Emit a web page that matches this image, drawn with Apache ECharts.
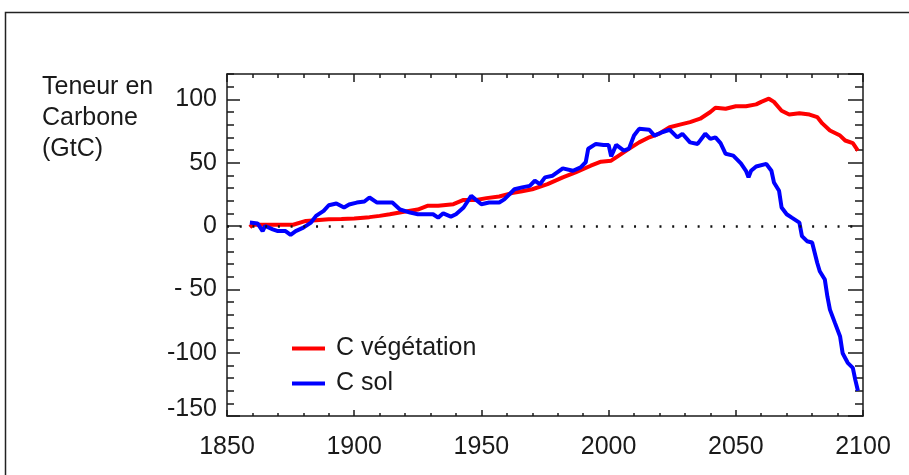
<!DOCTYPE html>
<html>
<head>
<meta charset="utf-8">
<style>
  html, body { margin: 0; padding: 0; background: #fff; }
  #chart { width: 909px; height: 475px; }
</style>
<script src="https://cdn.jsdelivr.net/npm/echarts@6/dist/echarts.min.js"></script>
</head>
<body>
<div id="chart"></div>
<script>
// données
var vegYears = [1859, 1860, 1865, 1870, 1876, 1881, 1885, 1890, 1895, 1900, 1906, 1910, 1914, 1919, 1925, 1929,
    1933, 1939, 1943, 1948, 1952, 1957, 1962, 1966, 1970, 1976, 1982, 1987, 1993, 1997, 2001, 2004, 2008,
    2012, 2016, 2020, 2024, 2028, 2032, 2036, 2040, 2042, 2046, 2050, 2054, 2058, 2060, 2063, 2065, 2068,
    2071, 2075, 2079, 2082, 2084, 2087, 2091, 2093, 2096, 2098];
var vegValues = [-1, 1, 1, 1, 1, 4, 4.5, 5.3, 5.5, 6, 7, 8, 9.3, 11, 13, 16,
    16, 17.2, 20.6, 20.6, 22, 23.3, 26, 27.5, 29, 33, 38.4, 42.3, 47.6, 50.8, 51.6, 55.6, 60.9,
    66, 70, 73, 78, 80, 82, 84.7, 90, 93.4, 92.6, 94.5, 94.5, 96, 98, 100.5, 98, 91,
    88, 89, 88, 86, 81, 75.4, 71.4, 67.5, 65.4, 59.5];

var solYears = [1859, 1862, 1864, 1865, 1868, 1870, 1873, 1875, 1877, 1880, 1883, 1885, 1888, 1890, 1893, 1896,
    1898, 1901, 1904, 1906, 1909, 1913, 1915, 1918, 1922, 1925, 1931, 1933, 1935, 1938, 1940, 1943, 1946,
    1950, 1953, 1957, 1959, 1963, 1966, 1969, 1971, 1973, 1975, 1978, 1982, 1986, 1989, 1991, 1992, 1995,
    1998, 2000, 2001, 2003, 2006, 2008, 2010, 2012, 2016, 2018, 2021, 2024, 2027, 2029, 2032, 2035, 2038,
    2040, 2042, 2044, 2046, 2049, 2052, 2054, 2055, 2056, 2058, 2062, 2064, 2065, 2067, 2068, 2070, 2072,
    2075, 2076, 2078, 2080, 2082, 2083, 2085, 2086, 2087, 2089, 2091, 2092, 2094, 2096, 2097, 2098];
var solValues = [2.7, 2, -4, 0, -2.6, -4, -4, -7, -4, -1.3, 2.7, 8, 12, 16.4, 17.7, 14.6,
    17, 18.5, 19.3, 22.5, 18.5, 18.5, 18.5, 13, 10.6, 9.3, 9.3, 6.6, 10, 7.4, 9.3, 14.6, 23.8,
    17.2, 18.5, 18.5, 21, 29, 30.5, 31.7, 35.7, 33, 38.4, 39.7, 45.5, 43.6, 46.3, 50.3, 61, 64.8,
    64, 64, 55, 64, 59.5, 61, 71.4, 76.7, 76, 71.4, 74, 76, 70, 72.8, 66, 64.8, 72.8,
    68.8, 70, 65.4, 57, 55.6, 49.5, 43.6, 38.4, 43.6, 47, 49, 43.6, 34.4, 27.8, 14.6, 9.3, 6.6,
    2.7, -8, -12, -13, -29, -35.7, -42.3, -55.6, -66, -76.7, -87.3, -100.5, -108, -112, -121.7, -130];

var seriesNames = ['C végétation', 'C sol'];
var yLabelText = { '-50': '- 50' };

var myChart = echarts.init(document.getElementById('chart'));

var font = '"Liberation Sans", Arial, sans-serif';
var fontSize = 25;
var ink = '#1a1a1a';

function pairs(xs, ys) {
    return xs.map(function (x, i) { return [x, ys[i]]; });
}

function yAxisDef(position, interval, tickLen, withLine, withLabels) {
    return {
        type: 'value',
        position: position,
        min: -150,
        max: 120,
        interval: interval,
        axisLine: { show: withLine, onZero: false, lineStyle: { color: ink, width: 1.5 } },
        axisTick: { show: true, inside: true, length: tickLen, lineStyle: { color: ink, width: 1.5 } },
        axisLabel: {
            show: withLabels,
            margin: 10,
            color: ink,
            fontFamily: font,
            fontSize: fontSize,
            showMaxLabel: false,
            formatter: function (v) {
                if (v === -150) return '{lift|-150}';
                return yLabelText[v] || String(v);
            },
            rich: { lift: { fontFamily: font, fontSize: fontSize, color: ink, padding: [0, 0, 14, 0] } }
        },
        splitLine: { show: false }
    };
}

function xAxisDef(position, tickLen, minorLen, withLabels) {
    return {
        type: 'value',
        position: position,
        min: 1850,
        max: 2100,
        interval: 50,
        axisLine: { onZero: false, lineStyle: { color: ink, width: 1.5 } },
        axisTick: { inside: true, length: tickLen, lineStyle: { color: ink, width: 1.5 } },
        minorTick: { show: true, splitNumber: 5, length: minorLen, lineStyle: { color: ink, width: 1.5 } },
        axisLabel: {
            show: withLabels,
            margin: 19,
            color: ink,
            fontFamily: font,
            fontSize: fontSize,
            formatter: function (v) { return String(v); }
        },
        splitLine: { show: false }
    };
}

var option = {
    animation: false,
    backgroundColor: '#fff',
    grid: { left: 227, top: 74, width: 636, height: 342 },
    graphic: [
        {
            type: 'rect',
            shape: { x: 5.5, y: 12.5, width: 1000, height: 1000 },
            style: { fill: 'none', stroke: '#222', lineWidth: 1.5 },
            silent: true
        },
        {
            type: 'text',
            left: 42,
            top: 72,
            style: {
                text: 'Teneur en\nCarbone\n(GtC)',
                font: fontSize + 'px ' + font,
                lineHeight: 31,
                fill: ink
            }
        }
    ],
    legend: {
        orient: 'vertical',
        left: 287,
        top: 331,
        icon: 'rect',
        itemWidth: 33,
        itemHeight: 4,
        itemGap: 10,
        textStyle: { fontFamily: font, fontSize: fontSize, lineHeight: 25, color: ink, padding: [0, 0, 0, 6] },
        data: seriesNames
    },
    xAxis: [
        xAxisDef('bottom', 6, 3, true),
        xAxisDef('top', 8, 4, false)
    ],
    yAxis: [
        yAxisDef('left', 50, 13, true, true),
        yAxisDef('left', 10, 7, false, false),
        yAxisDef('right', 50, 15, true, false),
        yAxisDef('right', 10, 8, false, false)
    ],
    series: [
        {
            name: seriesNames[0],
            type: 'line',
            xAxisIndex: 0,
            yAxisIndex: 0,
            showSymbol: false,
            color: '#ff0000',
            lineStyle: { color: '#ff0000', width: 4 },
            data: pairs(vegYears, vegValues),
            markLine: {
                silent: true,
                symbol: 'none',
                label: { show: false },
                lineStyle: { color: '#111', width: 2.5, type: [2, 10.72] },
                data: [{ yAxis: 0 }]
            }
        },
        {
            name: seriesNames[1],
            type: 'line',
            xAxisIndex: 0,
            yAxisIndex: 0,
            showSymbol: false,
            color: '#0000ff',
            lineStyle: { color: '#0000ff', width: 4 },
            data: pairs(solYears, solValues)
        }
    ]
};

myChart.setOption(option);

window.addEventListener('resize', function () {
    myChart.resize();
});
</script>
</body>
</html>
